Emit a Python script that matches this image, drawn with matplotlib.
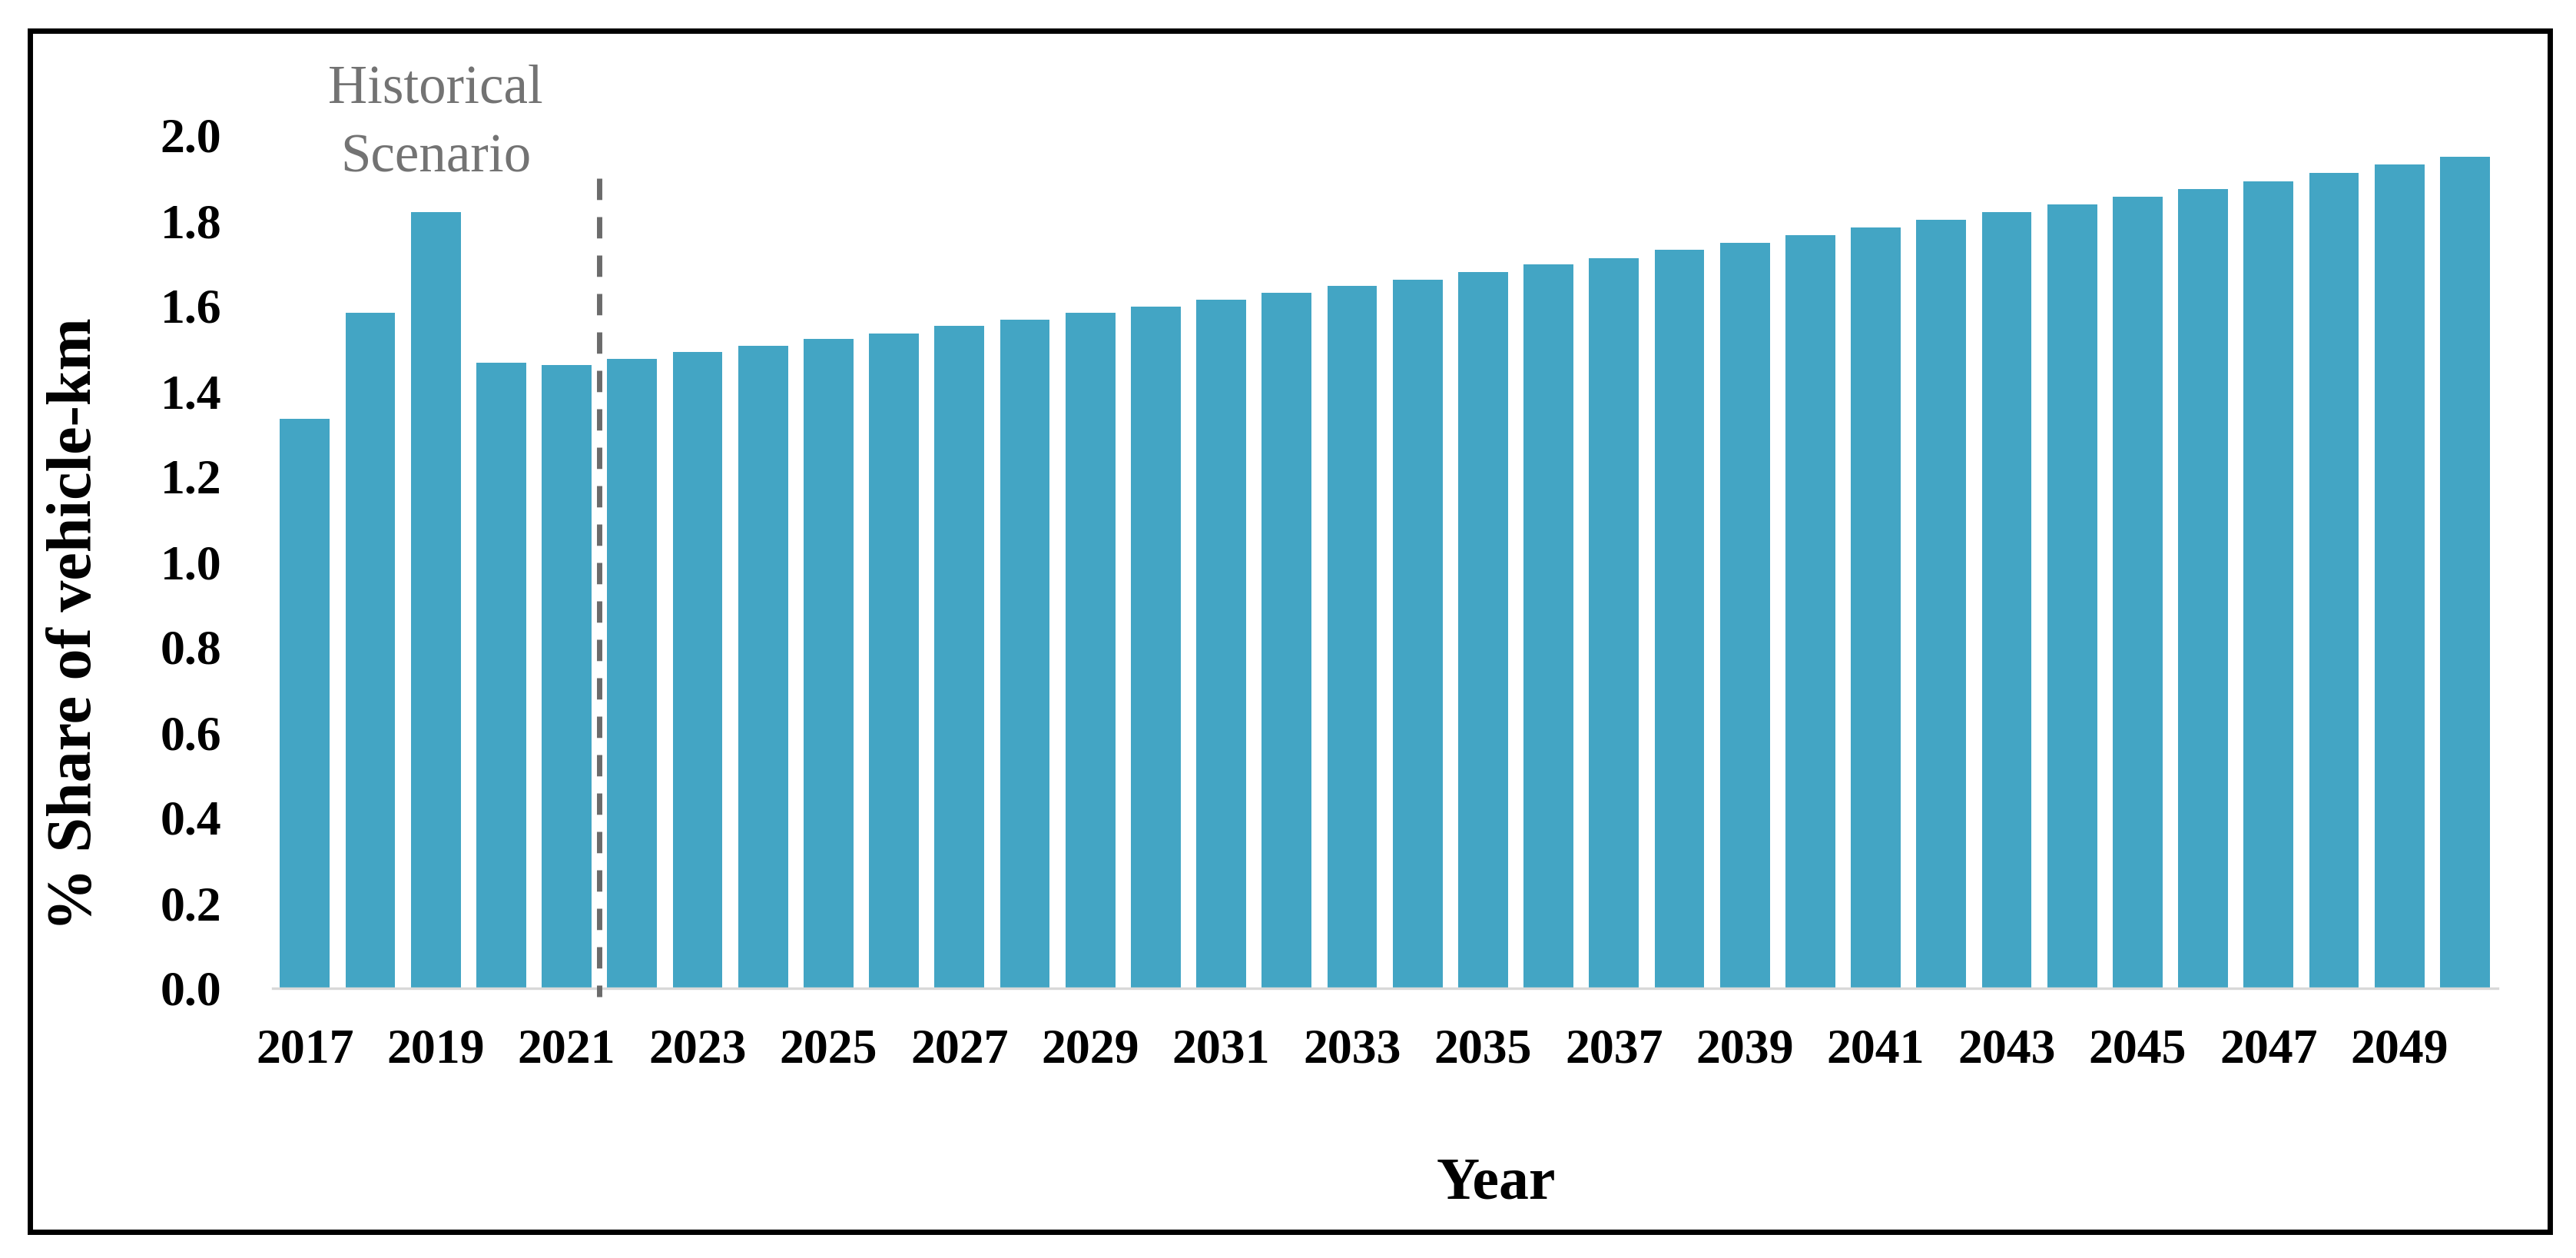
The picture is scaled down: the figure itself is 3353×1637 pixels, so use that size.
"""
Share of vehicle-km by year (historical + projected), bar chart
"""

import numpy as np
import matplotlib
matplotlib.use("Agg")
import matplotlib.pyplot as plt
from matplotlib.patches import Rectangle

# data
years = list(range(2017, 2051))
share = [
    1.335, 1.584, 1.820, 1.467, 1.461,  # 2017-2021 historical
    1.476, 1.492, 1.506, 1.522, 1.536, 1.553, 1.568, 1.583, 1.599, 1.614,
    1.631, 1.647, 1.662, 1.679, 1.697, 1.712, 1.732, 1.748, 1.765, 1.784,
    1.802, 1.820, 1.838, 1.856, 1.874, 1.892, 1.911, 1.932, 1.950,
]
last_historical = 2021
y_ticks = [0.0, 0.2, 0.4, 0.6, 0.8, 1.0, 1.2, 1.4, 1.6, 1.8, 2.0]

bar_color = "#43a5c4"
plt.rcParams["font.family"] = ["Liberation Serif", "DejaVu Serif"]

W, H, DPI = 3353, 1637, 200
fig = plt.figure(figsize=(W / DPI, H / DPI), dpi=DPI)

# axes placed in pixel terms of the reference
ax = fig.add_axes([355 / W, 1 - 1286 / H, (3251 - 355) / W, 1110 / H])

idx = np.arange(len(years))
ax.bar(idx, share, width=0.76, color=bar_color, zorder=2)

ax.set_xlim(-0.49, len(years) - 0.5)
ax.set_ylim(0, 2.0)

# x ticks: every other year
ax.set_xticks(idx[::2])
ax.set_xticklabels([str(y) for y in years[::2]], fontsize=23, fontweight="bold")
ax.set_yticks(y_ticks)
ax.set_yticklabels([f"{v:.1f}" for v in y_ticks], fontsize=23, fontweight="bold")
ax.tick_params(axis="x", length=0, pad=19)
ax.tick_params(axis="y", length=0, pad=24)

for side in ["top", "right", "left"]:
    ax.spines[side].set_visible(False)
ax.spines["bottom"].set_color("#d9d9d9")
ax.spines["bottom"].set_linewidth(1.2)

# dashed boundary between historical and projection
split = years.index(last_historical) + 0.5
ax.plot([split, split], [1.90, -0.02], color="#6b6b6b", lw=2.5,
        dashes=(4, 3.2), clip_on=False, zorder=3)

# labels
fig.text(99 / W, 1 - 812 / H, "% Share of vehicle-km", rotation=90,
         ha="center", va="center", fontsize=29.5, fontweight="bold")
fig.text(1947 / W, 1 - 1560 / H, "Year", ha="center", va="baseline",
         fontsize=28, fontweight="bold")
fig.text(567 / W, 1 - 133 / H, "Historical", ha="center", va="baseline",
         fontsize=25.5, color="#737373")
fig.text(567 / W, 1 - 223 / H, "Scenario", ha="center", va="baseline",
         fontsize=25.5, color="#737373")

# black border around the whole figure
fig.add_artist(Rectangle((38.5 / W, 1 - 1603 / H), (3319 - 38.5) / W,
                         (1603 - 39.5) / H, transform=fig.transFigure,
                         fill=False, lw=2.5, ec="black"))

fig.savefig("out.png", dpi=DPI)
